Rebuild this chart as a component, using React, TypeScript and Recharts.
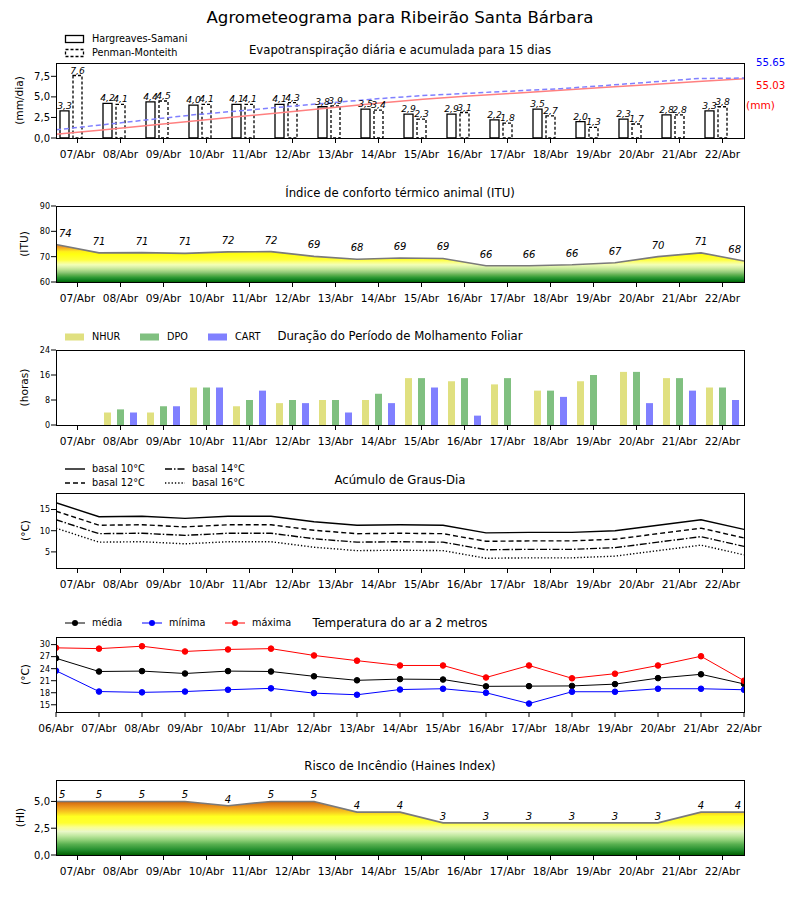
import React from "react";
import { ComposedChart, Bar, Line, Area, XAxis, YAxis, LabelList } from "recharts";

const FONT = "DejaVu Sans";

const days = ["07/Abr", "08/Abr", "09/Abr", "10/Abr", "11/Abr", "12/Abr", "13/Abr", "14/Abr",
  "15/Abr", "16/Abr", "17/Abr", "18/Abr", "19/Abr", "20/Abr", "21/Abr", "22/Abr"];
const tempDays = ["06/Abr", ...days];

// evapotranspiração (mm/dia) e acumulada (mm)
const etHargreaves = [3.3, 4.2, 4.4, 4.0, 4.1, 4.1, 3.8, 3.5, 2.9, 2.9, 2.2, 3.5, 2.0, 2.3, 2.8, 3.3];
const etPenman = [7.6, 4.1, 4.5, 4.1, 4.1, 4.3, 3.9, 3.4, 2.3, 3.1, 1.8, 2.7, 1.3, 1.7, 2.8, 3.8];
const accHargreaves = [3.4, 7.5, 11.6, 15.8, 19.9, 24.0, 28.1, 32.2, 36.0, 38.9, 41.6, 44.3, 47.0, 49.7, 52.4, 55.03];
const accPenman = [7.6, 12.2, 16.9, 21.5, 25.2, 29.0, 32.7, 36.4, 39.4, 41.5, 43.7, 45.8, 48.8, 52.0, 55.2, 55.65];

// ITU (17 pontos, entre os dias)
const ituValues = [74.8, 71.5, 71.6, 71.3, 71.9, 72.0, 70.1, 69.0, 69.5, 69.3, 66.4, 66.4, 66.8, 67.6, 70.0, 71.5, 68.3];
const ituLabels = [74, 71, 71, 71, 72, 72, 69, 68, 69, 69, 66, 66, 66, 67, 70, 71, 68];

// molhamento foliar (horas)
const wetNhur = [0, 4, 4, 12, 6, 7, 8, 8, 15, 14, 13, 11, 14, 17, 15, 12];
const wetDpo = [0, 5, 6, 12, 8, 8, 8, 10, 15, 15, 15, 11, 16, 17, 15, 12];
const wetCart = [0, 4, 6, 12, 11, 7, 4, 7, 12, 3, 0, 9, 0, 7, 11, 8];

// graus-dia
const gd10 = [16.6, 13.3, 13.4, 12.9, 13.4, 13.4, 12.1, 11.3, 11.4, 11.3, 9.5, 9.6, 9.6, 10.0, 11.3, 12.6, 10.3];
const gd12 = [14.6, 11.3, 11.4, 10.9, 11.4, 11.4, 10.1, 9.3, 9.4, 9.3, 7.5, 7.6, 7.6, 8.0, 9.3, 10.6, 8.3];
const gd14 = [12.6, 9.3, 9.4, 8.9, 9.4, 9.4, 8.1, 7.3, 7.4, 7.3, 5.5, 5.6, 5.6, 6.0, 7.3, 8.6, 6.3];
const gd16 = [10.6, 7.3, 7.4, 6.9, 7.4, 7.4, 6.1, 5.3, 5.4, 5.3, 3.5, 3.6, 3.6, 4.0, 5.3, 6.6, 4.3];

// temperatura do ar (°C)
const tMed = [26.6, 23.3, 23.4, 22.8, 23.4, 23.3, 22.1, 21.1, 21.4, 21.3, 19.6, 19.65, 19.7, 20.15, 21.65, 22.6, 20.2];
const tMin = [23.5, 18.3, 18.1, 18.3, 18.75, 19.1, 17.9, 17.5, 18.8, 19.0, 18.0, 15.3, 18.25, 18.25, 19.0, 19.0, 18.75];
const tMax = [29.2, 29.0, 29.6, 28.3, 28.8, 29.0, 27.3, 26.0, 24.8, 24.8, 21.8, 24.8, 21.6, 22.75, 24.8, 27.1, 21.0];

// Haines
const hainesValues = [5, 5, 5, 5, 4.6, 5, 5, 4, 4, 3, 3, 3, 3, 3, 3, 4, 4];
const hainesLabels = [5, 5, 5, 5, 4, 5, 5, 4, 4, 3, 3, 3, 3, 3, 3, 4, 4];

const etRows = days.map((day, i) => ({ day, i, hs: etHargreaves[i], pm: etPenman[i], accHs: accHargreaves[i], accPm: accPenman[i] }));
const ituRows = ituValues.map((v, i) => ({ x: i - 0.5, v, label: ituLabels[i] }));
const wetRows = days.map((day, i) => ({ day, nhur: wetNhur[i], dpo: wetDpo[i], cart: wetCart[i] }));
const gdRows = gd10.map((v, i) => ({ x: i - 0.5, b10: v, b12: gd12[i], b14: gd14[i], b16: gd16[i] }));
const tRows = tempDays.map((d, i) => ({ i, med: tMed[i], min: tMin[i], max: tMax[i] }));
const hainesRows = hainesValues.map((v, i) => ({ x: i - 0.5, v, label: hainesLabels[i] }));

const dayTicks = days.map((_, i) => i);
const tempTicks = tempDays.map((_, i) => i);

const MT = 10;
const XH = 30;
const W = 800;
const PL = 56;
const PW = 688;

const comma = (v: number) => v.toFixed(1).replace(".", ",");

const xTick = { fontFamily: FONT, fontSize: 10.6, fill: "#000" };
const yTickBig = { fontFamily: FONT, fontSize: 10, fill: "#000" };
const yTickSmall = { fontFamily: FONT, fontSize: 8, fill: "#000" };

const yLabel = (text: string, x: number) => ({
  content: (props: any) => {
    const vb = props.viewBox || {};
    const cy = vb.y + vb.height / 2;
    return (
      <text x={x} y={cy} transform={`rotate(-90 ${x} ${cy})`} textAnchor="middle" dominantBaseline="central"
        style={{ fontFamily: FONT, fontSize: 10.6, fill: "#000" }}>{text}</text>
    );
  },
});

function Txt({ x, y, size, color = "#000", center = false, children }: any) {
  return (
    <div style={{
      position: "absolute", top: y, left: center ? 0 : x, width: center ? W : undefined,
      textAlign: center ? "center" : "left", transform: "translateY(-50%)", lineHeight: 1,
      fontSize: size, color, whiteSpace: "nowrap", fontFamily: FONT,
    }}>{children}</div>
  );
}

function Frame({ top, h }: { top: number; h: number }) {
  return (
    <div style={{
      position: "absolute", left: PL, top, width: PW + 1, height: h + 1,
      border: "1px solid #000", boxSizing: "border-box", pointerEvents: "none",
    }} />
  );
}

function Box({ top, children }: any) {
  return <div style={{ position: "absolute", left: 0, top: top - MT }}>{children}</div>;
}

type LegendItem = { label: string; x: number; y: number; swatch: React.ReactNode };

function LegendRow({ items }: { items: LegendItem[] }) {
  return (
    <>
      {items.map((it) => (
        <div key={it.label} style={{ position: "absolute", left: it.x, top: it.y - 6, height: 12, display: "flex", alignItems: "center" }}>
          <svg width={22} height={12} style={{ display: "block" }}>{it.swatch}</svg>
          <span style={{ marginLeft: 6, fontSize: 9.7, fontFamily: FONT, lineHeight: 1 }}>{it.label}</span>
        </div>
      ))}
    </>
  );
}

const lineSwatch = (color: string, dash?: string, marker = false) => (
  <g>
    <line x1={1} x2={21} y1={6} y2={6} stroke={color} strokeWidth={marker ? 1 : 1.4} strokeDasharray={dash} />
    {marker && <circle cx={11} cy={6} r={3} fill={color} />}
  </g>
);

const boxSwatch = (dash?: string) => (
  <rect x={1.5} y={2.5} width={18} height={7} fill="#fff" stroke="#000" strokeWidth={1.3} strokeDasharray={dash} />
);
const fillSwatch = (color: string) => <rect x={1} y={2.5} width={19} height={7} fill={color} />;

const barLabel = (props: any) => {
  const { x, y, width, value } = props;
  if (value == null) return null;
  return (
    <text x={Number(x) + Number(width) / 2} y={Number(y) - 2} textAnchor="middle"
      style={{ fontFamily: FONT, fontSize: 9.2, fontStyle: "italic", fill: "#000" }}>{comma(value)}</text>
  );
};

const pointLabel = (dy: number, count: number) => (props: any) => {
  const { x, y, value, index } = props;
  const anchor = index === 0 ? "start" : index === count - 1 ? "end" : "middle";
  const dx = index === 0 ? 3 : index === count - 1 ? -3 : 0;
  return (
    <text x={Number(x) + dx} y={Number(y) - dy} textAnchor={anchor}
      style={{ fontFamily: FONT, fontSize: 10, fontStyle: "italic", fill: "#000" }}>{value}</text>
  );
};

const ituStops: [number, string][] = [
  [75.5, "#d86818"], [74, "#eb9428"], [73, "#f6c025"], [72, "#fff01a"], [71, "#ffff10"],
  [68.8, "#ffff38"], [67.8, "#fbff80"], [66.8, "#f2ffb8"], [65.8, "#d8f0a8"], [64.8, "#b8e090"],
  [63.8, "#90c878"], [62.8, "#60b050"], [61.8, "#309a35"], [60.8, "#108020"], [60, "#006400"],
];
const hainesStops: [number, string][] = [
  [5.1, "#c05808"], [4.8, "#dc7812"], [4.4, "#f0a020"], [4.0, "#f8cc20"], [3.6, "#ffff20"],
  [3.0, "#ffff30"], [2.6, "#faff90"], [2.2, "#eaf8c8"], [1.8, "#c0e8a0"], [1.4, "#90d078"],
  [1.0, "#58b050"], [0.5, "#269030"], [0, "#006000"],
];

const P = [
  { top: 63, h: 75 },
  { top: 206, h: 76 },
  { top: 350, h: 75 },
  { top: 493, h: 75 },
  { top: 637, h: 75 },
  { top: 780, h: 75 },
];

const chartProps = (h: number) => ({
  width: W,
  height: MT + h + XH,
  margin: { top: MT, right: W - PL - PW, bottom: 0, left: 0 },
});

const numX = (domain: [number, number], ticks: number[], labels: string[]) => ({
  type: "number" as const,
  dataKey: "x",
  domain,
  ticks,
  interval: 0 as const,
  allowDataOverflow: true,
  tickFormatter: (v: number) => labels[v] ?? "",
  tick: xTick,
  tickLine: { stroke: "#000" },
  axisLine: false,
  tickSize: 5,
  tickMargin: 7,
  height: XH,
});

const catX = {
  dataKey: "day",
  interval: 0 as const,
  tick: xTick,
  tickLine: { stroke: "#000" },
  axisLine: false,
  tickSize: 5,
  tickMargin: 7,
  height: XH,
};

const yBase = { width: PL, axisLine: false, tickLine: { stroke: "#000" }, tickSize: 5, tickMargin: 1, interval: 0 as const };

export default function App() {
  return (
    <div style={{ position: "absolute", left: 0, top: 0, width: W, height: 900, background: "#fff", fontFamily: FONT, color: "#000" }}>
      <Txt y={18} size={16.6} center>Agrometeograma para Ribeirão Santa Bárbara</Txt>

      {/* 1 - Evapotranspiração */}
      <Txt y={51} size={11.7} center>Evapotranspiração diária e acumulada para 15 dias</Txt>
      <LegendRow items={[
        { label: "Hargreaves-Samani", x: 64, y: 39, swatch: boxSwatch() },
        { label: "Penman-Monteith", x: 64, y: 53, swatch: boxSwatch("3 2") },
      ]} />
      <Box top={P[0].top}>
        <ComposedChart {...chartProps(P[0].h)} data={etRows} barGap={4}>
          <XAxis {...catX} />
          <XAxis xAxisId="acc" type="number" dataKey="i" domain={[0, 15]} hide />
          <YAxis {...yBase} domain={[0, 9.12]} ticks={[0, 2.5, 5, 7.5]} tickFormatter={comma} tick={yTickBig}
            label={yLabel("(mm/dia)", 19)} />
          <YAxis yAxisId="acc" orientation="right" domain={[0, 69.6]} hide />
          <Bar dataKey="hs" barSize={9} fill="#fff" stroke="#000" strokeWidth={1.3} isAnimationActive={false}>
            <LabelList dataKey="hs" content={barLabel} />
          </Bar>
          <Bar dataKey="pm" barSize={9} fill="#fff" stroke="#000" strokeWidth={1.3} strokeDasharray="3 2" isAnimationActive={false}>
            <LabelList dataKey="pm" content={barLabel} />
          </Bar>
          <Bar dataKey="spacer" barSize={9} fill="none" legendType="none" isAnimationActive={false} />
          <Line xAxisId="acc" yAxisId="acc" dataKey="accHs" stroke="#ff8080" strokeWidth={1.5} dot={false} isAnimationActive={false} />
          <Line xAxisId="acc" yAxisId="acc" dataKey="accPm" stroke="#8080ff" strokeWidth={1.5} strokeDasharray="5 3" dot={false} isAnimationActive={false} />
        </ComposedChart>
      </Box>
      <Frame {...P[0]} />
      <Txt x={756} y={63} size={10.2} color="#0000ff">55.65</Txt>
      <Txt x={756} y={86} size={10.2} color="#ff0000">55.03</Txt>
      <Txt x={746} y={105} size={10.6} color="#ff0000">(mm)</Txt>

      {/* 2 - ITU */}
      <Txt y={194} size={11.7} center>Índice de conforto térmico animal (ITU)</Txt>
      <Box top={P[1].top}>
        <ComposedChart {...chartProps(P[1].h)} data={ituRows}>
          <defs>
            <linearGradient id="ituGrad" gradientUnits="userSpaceOnUse" x1={0} x2={0} y1={MT} y2={MT + P[1].h}>
              {ituStops.map(([v, c]) => <stop key={v} offset={(90 - v) / 30} stopColor={c} />)}
            </linearGradient>
          </defs>
          <XAxis {...numX([-0.5, 15.5], dayTicks, days)} />
          <YAxis {...yBase} domain={[60, 90]} ticks={[60, 70, 80, 90]} tick={yTickSmall} label={yLabel("(ITU)", 24)} />
          <Area dataKey="v" type="linear" baseValue={60} fill="url(#ituGrad)" fillOpacity={1} stroke="#7a7a7a" strokeWidth={1.6} isAnimationActive={false}>
            <LabelList dataKey="label" content={pointLabel(8, ituRows.length)} />
          </Area>
        </ComposedChart>
      </Box>
      <Frame {...P[1]} />

      {/* 3 - Molhamento foliar */}
      <Txt y={337} size={11.7} center>Duração do Período de Molhamento Foliar</Txt>
      <LegendRow items={[
        { label: "NHUR", x: 64, y: 337, swatch: fillSwatch("#e0e080") },
        { label: "DPO", x: 139, y: 337, swatch: fillSwatch("#80c080") },
        { label: "CART", x: 207, y: 337, swatch: fillSwatch("#8080ff") },
      ]} />
      <Box top={P[2].top}>
        <ComposedChart {...chartProps(P[2].h)} data={wetRows} barGap={6}>
          <XAxis {...catX} />
          <YAxis {...yBase} domain={[0, 24]} ticks={[0, 8, 16, 24]} tick={yTickSmall} label={yLabel("(horas)", 24)} />
          <Bar dataKey="nhur" barSize={7} fill="#e0e080" isAnimationActive={false} />
          <Bar dataKey="dpo" barSize={7} fill="#80c080" isAnimationActive={false} />
          <Bar dataKey="cart" barSize={7} fill="#8080ff" isAnimationActive={false} />
        </ComposedChart>
      </Box>
      <Frame {...P[2]} />

      {/* 4 - Graus-dia */}
      <Txt y={481} size={11.7} center>Acúmulo de Graus-Dia</Txt>
      <LegendRow items={[
        { label: "basal 10°C", x: 64, y: 469, swatch: lineSwatch("#000") },
        { label: "basal 12°C", x: 64, y: 483, swatch: lineSwatch("#000", "5 3") },
        { label: "basal 14°C", x: 164, y: 469, swatch: lineSwatch("#000", "7 2 1.5 2") },
        { label: "basal 16°C", x: 164, y: 483, swatch: lineSwatch("#000", "1.3 2") },
      ]} />
      <Box top={P[3].top}>
        <ComposedChart {...chartProps(P[3].h)} data={gdRows}>
          <XAxis {...numX([-0.5, 15.5], dayTicks, days)} />
          <YAxis {...yBase} domain={[1.2, 18.9]} ticks={[5, 10, 15]} tick={yTickSmall} allowDataOverflow label={yLabel("(°C)", 24.5)} />
          <Line dataKey="b10" stroke="#000" strokeWidth={1.4} dot={false} isAnimationActive={false} />
          <Line dataKey="b12" stroke="#000" strokeWidth={1.4} strokeDasharray="5 3" dot={false} isAnimationActive={false} />
          <Line dataKey="b14" stroke="#000" strokeWidth={1.4} strokeDasharray="7 2 1.5 2" dot={false} isAnimationActive={false} />
          <Line dataKey="b16" stroke="#000" strokeWidth={1.4} strokeDasharray="1.3 2" dot={false} isAnimationActive={false} />
        </ComposedChart>
      </Box>
      <Frame {...P[3]} />

      {/* 5 - Temperatura */}
      <Txt y={624} size={11.7} center>Temperatura do ar a 2 metros</Txt>
      <LegendRow items={[
        { label: "média", x: 64, y: 623, swatch: lineSwatch("#000", undefined, true) },
        { label: "mínima", x: 141, y: 623, swatch: lineSwatch("#0000ff", undefined, true) },
        { label: "máxima", x: 224, y: 623, swatch: lineSwatch("#ff0000", undefined, true) },
      ]} />
      <Box top={P[4].top}>
        <ComposedChart {...chartProps(P[4].h)} data={tRows}>
          <XAxis {...numX([0, 16], tempTicks, tempDays)} dataKey="i" />
          <YAxis {...yBase} domain={[13.2, 31.9]} ticks={[15, 18, 21, 24, 27, 30]} tick={yTickSmall} allowDataOverflow label={yLabel("(°C)", 24.5)} />
          <Line dataKey="med" stroke="#000" strokeWidth={1} dot={{ r: 2.8, fill: "#000", stroke: "#000" }} isAnimationActive={false} />
          <Line dataKey="min" stroke="#0000ff" strokeWidth={1} dot={{ r: 2.8, fill: "#0000ff", stroke: "#0000ff" }} isAnimationActive={false} />
          <Line dataKey="max" stroke="#ff0000" strokeWidth={1} dot={{ r: 2.8, fill: "#ff0000", stroke: "#ff0000" }} isAnimationActive={false} />
        </ComposedChart>
      </Box>
      <Frame {...P[4]} />

      {/* 6 - Haines */}
      <Txt y={767} size={11.7} center>Risco de Incêndio (Haines Index)</Txt>
      <Box top={P[5].top}>
        <ComposedChart {...chartProps(P[5].h)} data={hainesRows}>
          <defs>
            <linearGradient id="hainesGrad" gradientUnits="userSpaceOnUse" x1={0} x2={0} y1={MT} y2={MT + P[5].h}>
              {hainesStops.map(([v, c]) => <stop key={v} offset={(7 - v) / 7} stopColor={c} />)}
            </linearGradient>
          </defs>
          <XAxis {...numX([-0.5, 15.5], dayTicks, days)} />
          <YAxis {...yBase} domain={[0, 7]} ticks={[0, 2.5, 5]} tickFormatter={comma} tick={yTickBig} label={yLabel("(HI)", 19.5)} />
          <Area dataKey="v" type="linear" baseValue={0} fill="url(#hainesGrad)" fillOpacity={1} stroke="#7a7a7a" strokeWidth={1.6} isAnimationActive={false}>
            <LabelList dataKey="label" content={pointLabel(3, hainesRows.length)} />
          </Area>
        </ComposedChart>
      </Box>
      <Frame {...P[5]} />
    </div>
  );
}
